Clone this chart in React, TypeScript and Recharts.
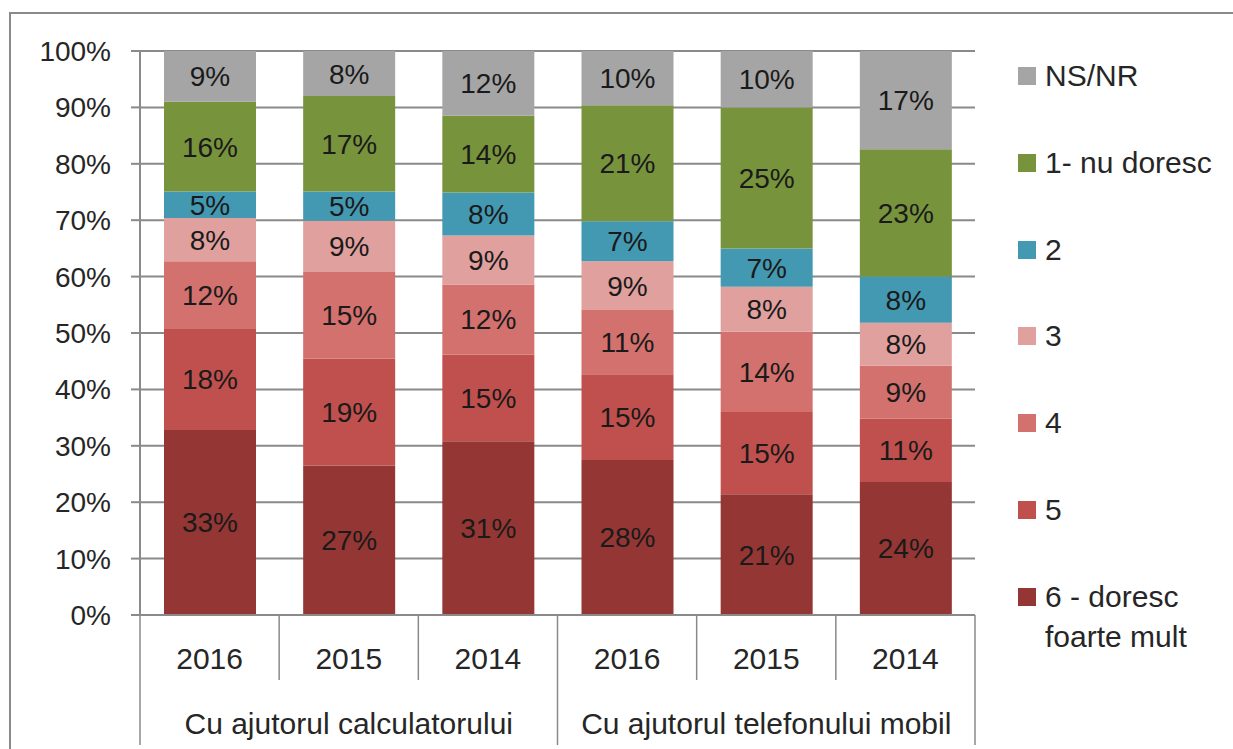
import React from 'react';
import { BarChart, Bar, XAxis, YAxis, CartesianGrid, LabelList, Legend } from 'recharts';

const years = ['2016', '2015', '2014', '2016', '2015', '2014'];
const groups = ['Cu ajutorul calculatorului', 'Cu ajutorul telefonului mobil'];
const groupOf = [0, 0, 0, 1, 1, 1];

const s6 = [32.8, 26.5, 30.8, 27.5, 21.4, 23.6];
const s5 = [17.9, 19.0, 15.4, 15.2, 14.6, 11.2];
const s4 = [12.0, 15.3, 12.4, 11.4, 14.2, 9.4];
const s3 = [7.7, 9.1, 8.7, 8.6, 8.0, 7.6];
const s2 = [4.7, 5.2, 7.6, 7.1, 6.8, 8.2];
const s1 = [15.9, 16.9, 13.6, 20.6, 25.0, 22.6];
const sNS = [9.0, 8.0, 11.5, 9.6, 10.0, 17.4];

const yTicks = [0, 10, 20, 30, 40, 50, 60, 70, 80, 90, 100];

const seriesNames = ['6 - doresc foarte mult', '5', '4', '3', '2', '1- nu doresc', 'NS/NR'];
const seriesKeys = ['s6', 's5', 's4', 's3', 's2', 's1', 'sNS'];
const seriesColors = ['#943634', '#C0504D', '#D2716E', '#E0A09E', '#4399B1', '#77933C', '#A5A5A5'];
const seriesValues = [s6, s5, s4, s3, s2, s1, sNS];

const data = years.map((y, i) => {
  const row: any = { id: i, year: y, group: groups[groupOf[i]] };
  seriesKeys.forEach((k, j) => {
    row[k] = seriesValues[j][i];
  });
  return row;
});

const FONT = '"Liberation Sans", Arial, sans-serif';
const TEXT = '#262626';
const LINE = '#8a8a8a';

const XTick = (props: any) => {
  const { x, y, payload, index } = props;
  const band = payload && payload.offset ? payload.offset * 2 : 139.17;
  const i = payload ? payload.value : index;
  const leftX = x - band / 2;
  const rightX = x + band / 2;
  const isGroupStart = i === 0 || groupOf[i] !== groupOf[i - 1];
  const isLast = i === years.length - 1;
  const isGroupMiddle = i === 1 || i === 4;
  return (
    <g>
      <line x1={leftX} y1={y} x2={leftX} y2={y + (isGroupStart ? 130 : 65)} stroke={LINE} strokeWidth={1.5} />
      {isLast && <line x1={rightX} y1={y} x2={rightX} y2={y + 130} stroke={LINE} strokeWidth={1.5} />}
      <text x={x} y={y + 43} textAnchor="middle" dominantBaseline="central" fill={TEXT} fontSize={30} fontFamily={FONT}>
        {years[i]}
      </text>
      {isGroupMiddle && (
        <text x={x} y={y + 108} textAnchor="middle" dominantBaseline="central" fill={TEXT} fontSize={30} fontFamily={FONT}>
          {groups[groupOf[i]]}
        </text>
      )}
    </g>
  );
};

const LegendContent = (props: any) => {
  const payload = (props.payload || [])
    .slice()
    .sort((a: any, b: any) => seriesNames.indexOf(b.value) - seriesNames.indexOf(a.value));
  return (
    <div style={{ fontFamily: FONT }}>
      {payload.map((p: any) => (
        <div key={p.value} style={{ height: 86.8, display: 'flex', alignItems: 'flex-start' }}>
          <div style={{ width: 18, height: 18, marginTop: 11, background: p.color, flex: 'none' }} />
          <div style={{ marginLeft: 9, width: 185, fontSize: 30, lineHeight: '40px', color: TEXT }}>{p.value}</div>
        </div>
      ))}
    </div>
  );
};

export default function App() {
  return (
    <div style={{ position: 'absolute', left: 0, top: 0, width: 1233, height: 749, background: '#fff', overflow: 'hidden' }}>
      <div
        style={{
          position: 'absolute',
          left: 9,
          top: 12,
          width: 1260,
          height: 780,
          border: '2px solid #8a8a8a',
          boxSizing: 'border-box',
        }}
      />
      <div style={{ position: 'absolute', left: 0, top: 0 }}>
        <BarChart width={1233} height={749} data={data} margin={{ top: 51, right: 38, bottom: 0, left: 0 }} barSize={92}>
          <CartesianGrid vertical={false} stroke={LINE} strokeWidth={2} />
          <XAxis
            dataKey="id"
            type="category"
            height={134}
            tickLine={false}
            tickSize={0}
            tickMargin={0}
            axisLine={{ stroke: LINE, strokeWidth: 2 }}
            tick={<XTick />}
            interval={0}
          />
          <YAxis
            width={140}
            domain={[0, 100]}
            ticks={yTicks}
            tickFormatter={(v: number) => `${v}%`}
            tickSize={9}
            tickMargin={20}
            tickLine={{ stroke: LINE, strokeWidth: 2 }}
            axisLine={{ stroke: LINE, strokeWidth: 2 }}
            tick={{ fill: TEXT, fontSize: 28, fontFamily: FONT }}
            allowDataOverflow
          />
          <Legend
            layout="vertical"
            align="right"
            verticalAlign="top"
            content={<LegendContent />}
            wrapperStyle={{ left: 1018, top: 56, width: 220, right: 'auto' }}
          />
          {seriesKeys.map((k, j) => (
            <Bar key={k} dataKey={k} name={seriesNames[j]} stackId="a" fill={seriesColors[j]} isAnimationActive={false}>
              <LabelList
                dataKey={k}
                position="center"
                formatter={(v: any) => `${Math.round(Number(v))}%`}
                style={{ fill: '#1a1a1a', fontSize: 28, fontFamily: FONT }}
              />
            </Bar>
          ))}
        </BarChart>
      </div>
    </div>
  );
}
